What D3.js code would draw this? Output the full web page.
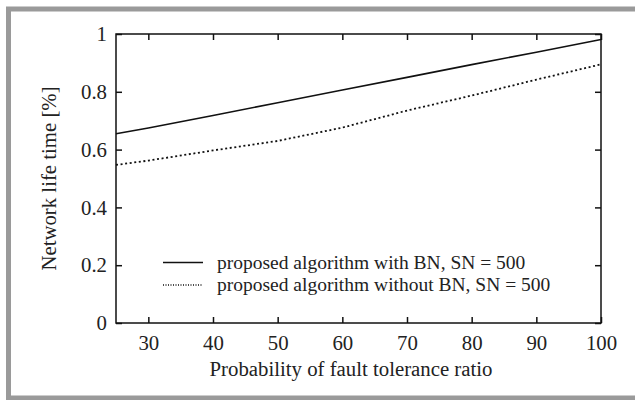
<!DOCTYPE html>
<html>
<head>
<meta charset="utf-8">
<script src="https://cdn.jsdelivr.net/npm/d3@7"></script>
<style>
  body { margin: 0; background: #fff; }
  text { font-family: "Liberation Serif", "Times New Roman", serif; fill: #222; }
</style>
</head>
<body>
<div id="chart"></div>
<script>
// data
const xValues = [25, 30, 40, 50, 60, 70, 80, 90, 100];
const withBN = [0.655, 0.675, 0.718, 0.762, 0.806, 0.850, 0.894, 0.937, 0.981];
const withoutBN = [0.547, 0.562, 0.597, 0.630, 0.676, 0.735, 0.787, 0.842, 0.895];
const xTicks = [30, 40, 50, 60, 70, 80, 90, 100];
const yTicks = [0, 0.2, 0.4, 0.6, 0.8, 1];
const legendLabels = ["proposed algorithm with BN, SN = 500", "proposed algorithm without BN, SN = 500"];

const width = 635, height = 400;
const margin = { left: 116, right: 34, top: 34, bottom: 77 };
const plotW = width - margin.left - margin.right;
const plotH = height - margin.top - margin.bottom;
const fontSize = "20.8px";

const svg = d3.select("#chart").append("svg")
    .attr("width", width)
    .attr("height", height);

// grey frame round the figure (open on the right)
svg.append("path")
    .attr("d", `M${width},9 L8.5,9 L8.5,398 L${width},398`)
    .attr("fill", "none")
    .attr("stroke", "#9a9a9a")
    .attr("stroke-width", 5);

const x = d3.scaleLinear().domain([25, 100]).range([0, plotW]);
const y = d3.scaleLinear().domain([0, 1]).range([plotH, 0]);

const g = svg.append("g")
    .attr("transform", `translate(${margin.left},${margin.top})`);

const fmt = d => d === 0 ? "0" : d === 1 ? "1" : d3.format(".1f")(d);

// bottom axis with labels
const xAxis = g.append("g")
    .attr("transform", `translate(0,${plotH})`)
    .call(d3.axisBottom(x).tickValues(xTicks).tickSizeInner(-6).tickSizeOuter(0).tickPadding(12));
// top axis, ticks only
const xTop = g.append("g")
    .call(d3.axisTop(x).tickValues(xTicks).tickSizeInner(-6).tickSizeOuter(0).tickFormat(""));
// left axis with labels
const yAxis = g.append("g")
    .call(d3.axisLeft(y).tickValues(yTicks).tickSizeInner(-6).tickSizeOuter(0).tickPadding(9).tickFormat(fmt));
// right axis, ticks only
const yRight = g.append("g")
    .attr("transform", `translate(${plotW},0)`)
    .call(d3.axisRight(y).tickValues(yTicks).tickSizeInner(-6).tickSizeOuter(0).tickFormat(""));

[xAxis, xTop, yAxis, yRight].forEach(a => {
    a.select(".domain").remove();
    a.selectAll("line").attr("stroke", "#111").attr("stroke-width", 1.5);
    a.selectAll("text").style("font-size", fontSize).attr("fill", "#222");
});

// plot border
g.append("rect")
    .attr("width", plotW)
    .attr("height", plotH)
    .attr("fill", "none")
    .attr("stroke", "#111")
    .attr("stroke-width", 1.5);

const line = d3.line()
    .x(d => x(d[0]))
    .y(d => y(d[1]));

g.append("path")
    .datum(xValues.map((v, i) => [v, withBN[i]]))
    .attr("fill", "none")
    .attr("stroke", "#111")
    .attr("stroke-width", 1.6)
    .attr("d", line);

g.append("path")
    .datum(xValues.map((v, i) => [v, withoutBN[i]]))
    .attr("fill", "none")
    .attr("stroke", "#111")
    .attr("stroke-width", 1.8)
    .attr("stroke-dasharray", "2,2.6")
    .attr("d", line);

// legend (rows a little apart so the labels do not touch)
const legend = g.append("g")
    .attr("transform", `translate(${163 - margin.left},${262.5 - margin.top})`);

legendLabels.forEach((label, i) => {
    const row = legend.append("g").attr("transform", `translate(0,${i * 22.5})`);
    row.append("line")
        .attr("x1", 0).attr("x2", 40)
        .attr("stroke", "#111")
        .attr("stroke-width", i === 0 ? 1.4 : 1.3)
        .attr("stroke-dasharray", i === 0 ? null : "1,1.5");
    row.append("text")
        .attr("x", 54)
        .attr("dy", "0.33em")
        .style("font-size", "19.5px")
        .text(label);
});

// axis titles
svg.append("text")
    .attr("x", 351)
    .attr("y", 376)
    .attr("text-anchor", "middle")
    .style("font-size", fontSize)
    .text("Probability of fault tolerance ratio");

svg.append("text")
    .attr("transform", `translate(56,${margin.top + plotH / 2}) rotate(-90)`)
    .attr("text-anchor", "middle")
    .style("font-size", fontSize)
    .text("Network life time [%]");
</script>
</body>
</html>
